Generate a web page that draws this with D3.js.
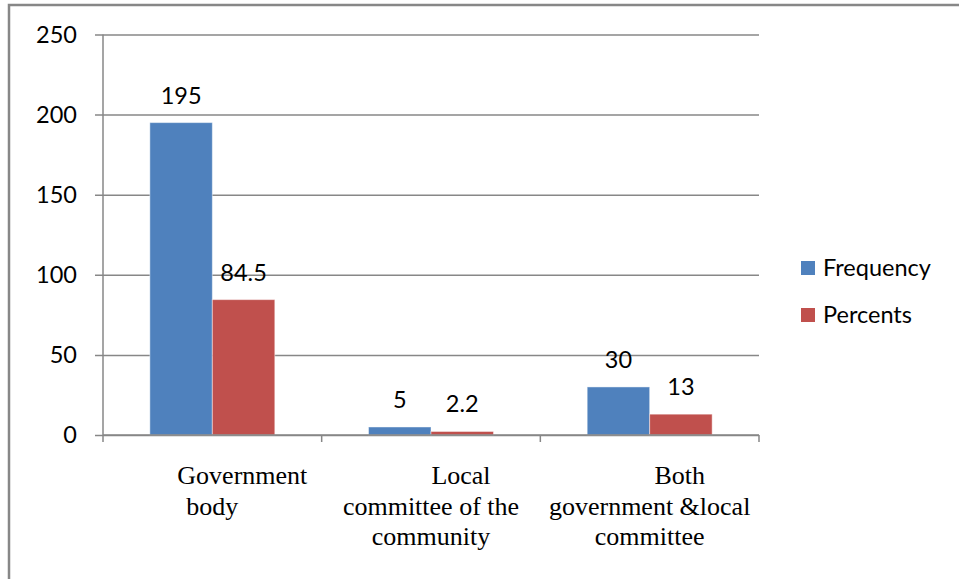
<!DOCTYPE html>
<html>
<head>
<meta charset="utf-8">
<script src="https://cdn.jsdelivr.net/npm/d3@7/dist/d3.min.js"></script>
<style>
  html, body { margin: 0; padding: 0; background: #fff; }
  svg { display: block; }
</style>
</head>
<body>
<svg id="chart" width="959" height="579"></svg>
<script>
// Who is responsible: frequency and percent of respondents
const categories = ["Government body", "Local committee of the community", "Both government &local committee"];
const categoryLines = [
  ["Government", "body"],
  ["Local", "committee of the", "community"],
  ["Both", "government &local", "committee"]
];
const seriesNames = ["Frequency", "Percents"];
const frequency = [195, 5, 30];
const percents = [84.5, 2.2, 13];
const yTicks = [0, 50, 100, 150, 200, 250];

const colors = { Frequency: "#4F81BD", Percents: "#C0504D" };
const gray = "#878787";
const sans = "Lato, 'Open Sans', sans-serif";
const serif = "'Liberation Serif', 'Times New Roman', serif";
const sansSize = 23.5;

const svg = d3.select("#chart");

// outer frame (only top and left edges fall inside the view)
svg.append("rect")
  .attr("x", 9).attr("y", 5)
  .attr("width", 1200).attr("height", 800)
  .attr("fill", "none").attr("stroke", gray).attr("stroke-width", 2.5);

const plot = { left: 103, right: 759, top: 34.5, bottom: 435 };

const y = d3.scaleLinear().domain([0, 250]).range([plot.bottom, plot.top]);
const x0 = d3.scaleBand().domain(categories).range([plot.left, plot.right]).padding(0);
const x1 = d3.scaleBand().domain(seriesNames).range([0, x0.bandwidth()])
  .paddingInner(0).paddingOuter(0.75);

// horizontal gridlines with outward tick marks
const yAxis = d3.axisLeft(y).tickValues(yTicks)
  .tickSize(-(plot.right - plot.left)).tickPadding(0).tickFormat("");
const gy = svg.append("g").attr("transform", `translate(${plot.left},0)`).call(yAxis);
gy.select(".domain").remove();
gy.selectAll(".tick line")
  .attr("x1", -8)
  .attr("stroke", gray).attr("stroke-width", 1.5);

// y tick labels
svg.append("g").selectAll("text")
  .data(yTicks).join("text")
  .attr("x", 77).attr("y", d => y(d))
  .attr("dy", "0.36em")
  .attr("text-anchor", "end")
  .attr("font-family", sans).attr("font-size", sansSize).attr("fill", "#000")
  .text(d => d);

// y axis line
svg.append("line")
  .attr("x1", plot.left).attr("x2", plot.left)
  .attr("y1", plot.top).attr("y2", plot.bottom)
  .attr("stroke", gray).attr("stroke-width", 1.5);

// bars
const rows = categories.map((c, i) => ({ cat: c, values: [
  { series: "Frequency", value: frequency[i] },
  { series: "Percents", value: percents[i] }
]}));

const groups = svg.append("g").selectAll("g")
  .data(rows).join("g")
  .attr("transform", d => `translate(${x0(d.cat)},0)`);

groups.selectAll("rect")
  .data(d => d.values).join("rect")
  .attr("x", d => x1(d.series))
  .attr("y", d => y(d.value))
  .attr("width", x1.bandwidth())
  .attr("height", d => y(0) - y(d.value))
  .attr("fill", d => colors[d.series])
  .attr("stroke", "rgba(255,255,255,0.45)").attr("stroke-width", 1);

groups.selectAll("text")
  .data(d => d.values).join("text")
  .attr("x", d => x1(d.series) + x1.bandwidth() / 2)
  .attr("y", d => y(d.value) - 19)
  .attr("text-anchor", "middle")
  .attr("font-family", sans).attr("font-size", sansSize).attr("fill", "#000")
  .text(d => d.value);

// x axis line and category ticks
const xBounds = categories.map(c => x0(c)).concat([plot.right]);
svg.append("line")
  .attr("x1", plot.left).attr("x2", plot.right)
  .attr("y1", plot.bottom).attr("y2", plot.bottom)
  .attr("stroke", gray).attr("stroke-width", 1.5);
svg.append("g").selectAll("line")
  .data(xBounds).join("line")
  .attr("x1", d => d).attr("x2", d => d)
  .attr("y1", plot.bottom).attr("y2", plot.bottom + 7)
  .attr("stroke", gray).attr("stroke-width", 1.5);

// category labels (first line indented)
const catLabels = svg.append("g").selectAll("text")
  .data(categories).join("text")
  .attr("text-anchor", "middle")
  .attr("font-family", serif).attr("font-size", 26).attr("fill", "#000");
catLabels.each(function(c, i) {
  const cx = x0(c) + x0.bandwidth() / 2;
  d3.select(this).selectAll("tspan")
    .data(categoryLines[i]).join("tspan")
    .attr("x", (d, j) => j === 0 ? cx + 30 : cx)
    .attr("y", (d, j) => 484 + j * 30.5)
    .text(d => d);
});

// legend
const legend = svg.append("g").selectAll("g")
  .data(seriesNames).join("g")
  .attr("transform", (d, i) => `translate(801,${261 + i * 47})`);
legend.append("rect")
  .attr("width", 14).attr("height", 14)
  .attr("fill", d => colors[d]);
legend.append("text")
  .attr("x", 22).attr("y", 7).attr("dy", "0.36em")
  .attr("font-family", sans).attr("font-size", sansSize).attr("fill", "#000")
  .text(d => d);
</script>
</body>
</html>
